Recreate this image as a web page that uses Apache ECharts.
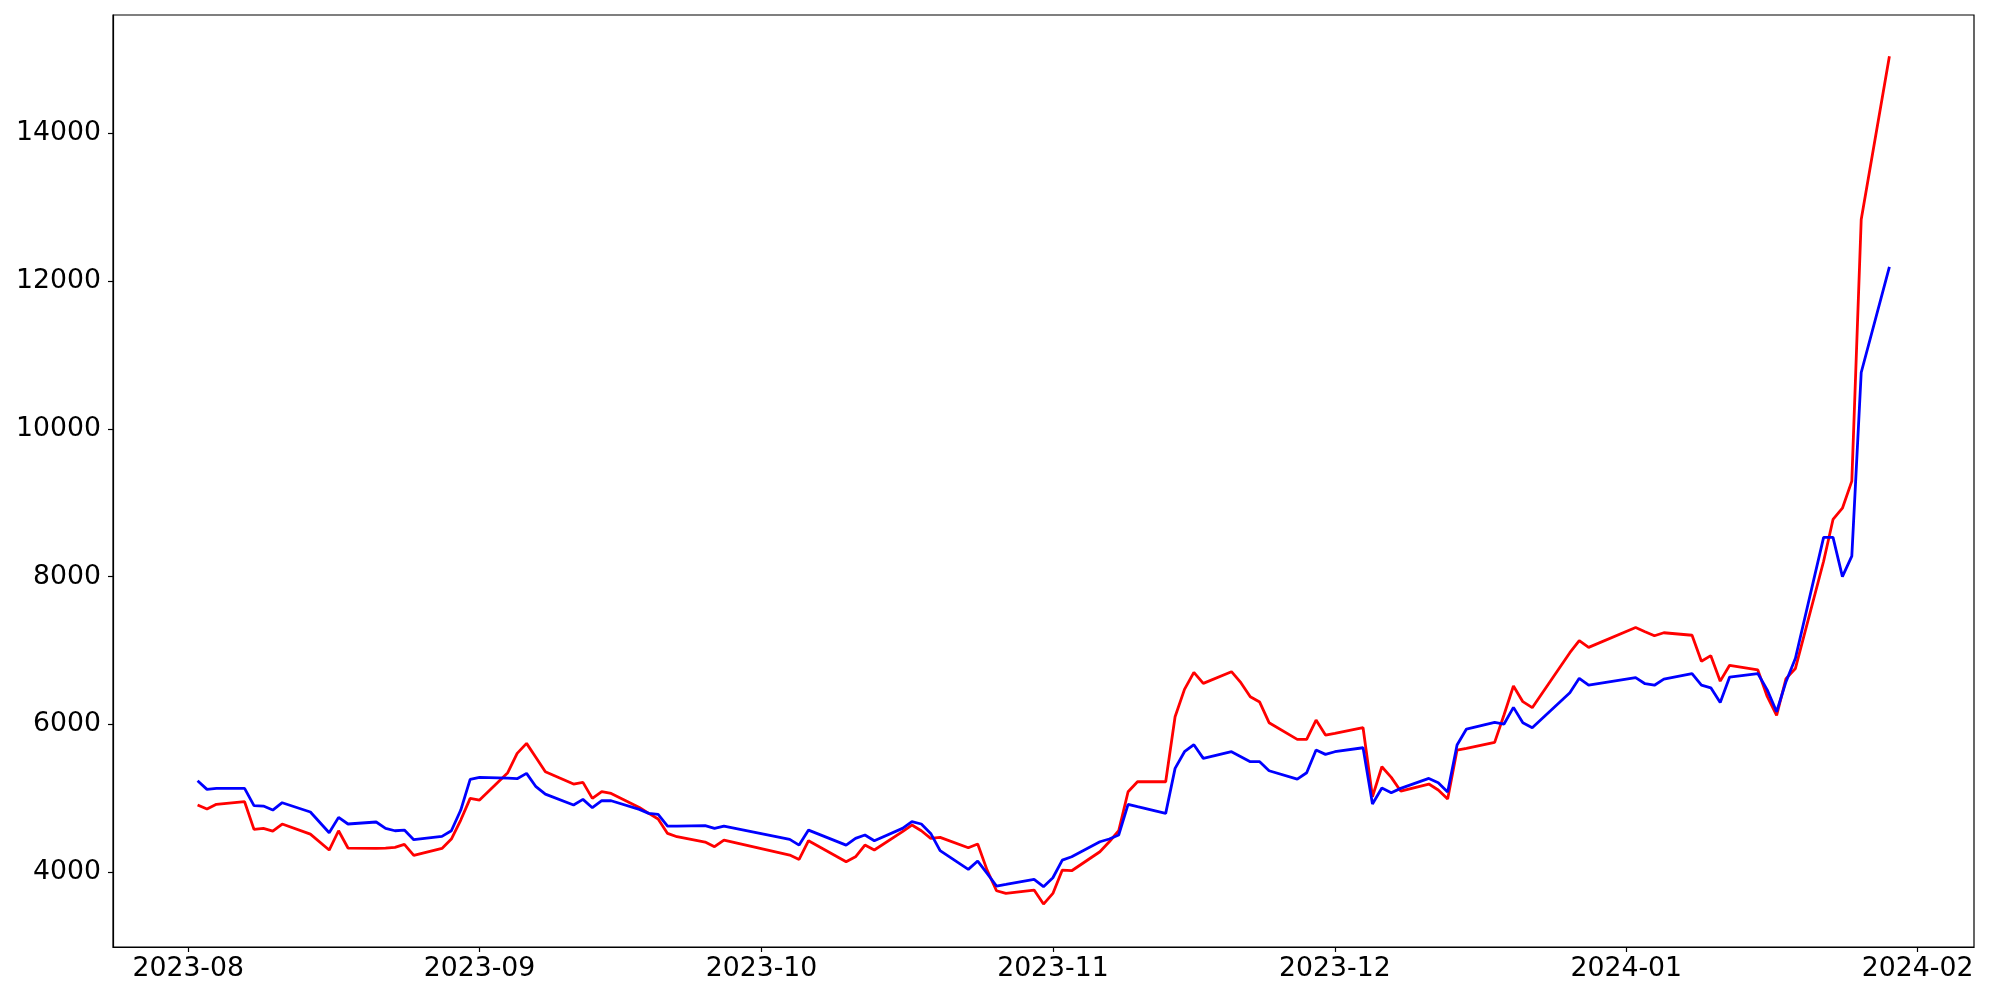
<!DOCTYPE html>
<html>
<head>
<meta charset="utf-8">
<script src="https://cdn.jsdelivr.net/npm/echarts@6/dist/echarts.min.js"></script>
<style>
html,body{margin:0;padding:0;background:#fff;}
#chart{width:2000px;height:1000px;}
</style>
</head>
<body>
<div id="chart"></div>
<script>
const dates = [
'2023-08-02','2023-08-03','2023-08-04','2023-08-07','2023-08-08','2023-08-09','2023-08-10','2023-08-11','2023-08-14','2023-08-16',
'2023-08-17','2023-08-18','2023-08-21','2023-08-22','2023-08-23','2023-08-24','2023-08-25','2023-08-28','2023-08-29','2023-08-30',
'2023-08-31','2023-09-01','2023-09-04','2023-09-05','2023-09-06','2023-09-07','2023-09-08','2023-09-11','2023-09-12','2023-09-13',
'2023-09-14','2023-09-15','2023-09-18','2023-09-19','2023-09-20','2023-09-21','2023-09-22','2023-09-25','2023-09-26','2023-09-27',
'2023-10-04','2023-10-05','2023-10-06','2023-10-10','2023-10-11','2023-10-12','2023-10-13','2023-10-16','2023-10-17','2023-10-18',
'2023-10-19','2023-10-20','2023-10-23','2023-10-24','2023-10-25','2023-10-26','2023-10-27','2023-10-30','2023-10-31','2023-11-01',
'2023-11-02','2023-11-03','2023-11-06','2023-11-07','2023-11-08','2023-11-09','2023-11-10','2023-11-13','2023-11-14','2023-11-15',
'2023-11-16','2023-11-17','2023-11-20','2023-11-21','2023-11-22','2023-11-23','2023-11-24','2023-11-27','2023-11-28','2023-11-29',
'2023-11-30','2023-12-01','2023-12-04','2023-12-05','2023-12-06','2023-12-07','2023-12-08','2023-12-11','2023-12-12','2023-12-13',
'2023-12-14','2023-12-15','2023-12-18','2023-12-19','2023-12-20','2023-12-21','2023-12-22','2023-12-26','2023-12-27','2023-12-28',
'2024-01-02','2024-01-03','2024-01-04','2024-01-05','2024-01-08','2024-01-09','2024-01-10','2024-01-11','2024-01-12','2024-01-15',
'2024-01-16','2024-01-17','2024-01-18','2024-01-19','2024-01-22','2024-01-23','2024-01-24','2024-01-25','2024-01-26','2024-01-29'
];
const redValues = [
4911,4856,4920,4956,4581,4595,4559,4654,4518,4302,
4563,4329,4324,4329,4338,4378,4230,4324,4451,4708,
5001,4978,5348,5610,5745,5555,5362,5195,5217,5001,
5091,5068,4879,4798,4721,4527,4482,4410,4347,4437,
4234,4175,4428,4144,4211,4369,4302,4550,4640,4563,
4460,4473,4333,4383,4030,3751,3715,3760,3571,3715,
4031,4022,4279,4414,4563,5091,5226,5226,6106,6476,
6706,6557,6715,6566,6376,6304,6025,5799,5799,6061,
5858,5880,5957,5023,5429,5285,5100,5195,5114,4992,
5655,5677,5759,6133,6521,6309,6228,6972,7134,7044,
7312,7256,7201,7242,7208,6856,6932,6587,6801,6739,
6380,6124,6621,6759,8209,8775,8927,9293,12834,15043
];
const blueValues = [
5240,5123,5136,5136,4902,4897,4843,4942,4816,4536,
4744,4654,4681,4595,4563,4572,4442,4487,4563,4843,
5258,5285,5276,5267,5339,5159,5059,4911,4987,4875,
4969,4969,4852,4798,4784,4626,4626,4631,4595,4626,
4446,4369,4572,4369,4460,4505,4428,4595,4685,4654,
4527,4293,4040,4153,3986,3815,3837,3905,3806,3927,
4166,4211,4414,4451,4505,4920,4888,4798,5407,5632,
5727,5542,5632,5565,5497,5497,5375,5262,5348,5655,
5596,5632,5686,4924,5141,5077,5136,5271,5213,5086,
5722,5939,6029,6007,6232,6025,5957,6431,6625,6534,
6635,6552,6532,6614,6690,6532,6497,6297,6642,6690,
6469,6173,6580,6897,8533,8533,8002,8278,10763,12192
];
const xTickLabels = ['2023-08','2023-09','2023-10','2023-11','2023-12','2024-01','2024-02'];
const yTicks = [4000,6000,8000,10000,12000,14000];

function ts(s){ const p = s.split('-').map(Number); return Date.UTC(p[0], p[1]-1, p[2] || 1); }

const xTickValues = xTickLabels.map(ts);
const redData = dates.map((d,i)=>[ts(d), redValues[i]]);
const blueData = dates.map((d,i)=>[ts(d), blueValues[i]]);

const font = {fontFamily:'DejaVu Sans', fontSize:26.7, color:'#000'};
const chart = echarts.init(document.getElementById('chart'), null, {renderer:'canvas'});
chart.setOption({
  animation:false,
  backgroundColor:'#fff',
  grid:{left:113, right:26, top:15, bottom:53, show:true, borderColor:'#000', borderWidth:1.2, backgroundColor:'transparent'},
  xAxis:{
    type:'value',
    min: ts('2023-07-24'), max: ts('2024-02-07'),
    axisLine:{show:true, lineStyle:{color:'#000', width:1.2}},
    axisTick:{show:true, inside:false, length:5, lineStyle:{color:'#000', width:1.2}, customValues:xTickValues},
    axisLabel:Object.assign({margin:9, customValues:xTickValues, hideOverlap:false,
      formatter:function(v){ const i = xTickValues.indexOf(v); return i >= 0 ? xTickLabels[i] : ''; }}, font),
    splitLine:{show:false}
  },
  yAxis:{
    type:'value',
    min:2990, max:15600,
    axisLine:{show:true, lineStyle:{color:'#000', width:1.2}},
    axisTick:{show:true, inside:false, length:5, lineStyle:{color:'#000', width:1.2}, customValues:yTicks},
    axisLabel:Object.assign({margin:12, customValues:yTicks, formatter:function(v){ return String(v); }}, font),
    splitLine:{show:false}
  },
  series:[
    {type:'line', data:redData, showSymbol:false, symbol:'none', lineStyle:{color:'#ff0000', width:2.8}, itemStyle:{color:'#ff0000'}, z:2},
    {type:'line', data:blueData, showSymbol:false, symbol:'none', lineStyle:{color:'#0000ff', width:2.8}, itemStyle:{color:'#0000ff'}, z:3}
  ]
});
</script>
</body>
</html>
